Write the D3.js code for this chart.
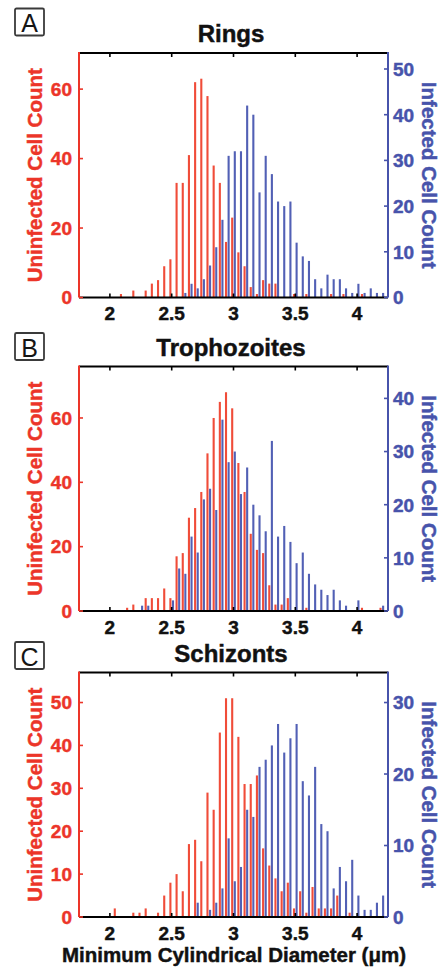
<!DOCTYPE html>
<html>
<head>
<meta charset="utf-8">
<script src="https://cdn.jsdelivr.net/npm/d3@7"></script>
<style>
  html, body { margin: 0; padding: 0; background: #fff; }
  svg { display: block; }
  text { font-family: "Liberation Sans", Arial, sans-serif; }
  text.heavy { stroke-width: 0.45px; paint-order: stroke; }
</style>
</head>
<body>
<svg id="chart" width="443" height="968"></svg>
<script>
// ---------------- DATA ----------------
const bins = [1.8,1.85,1.9,1.95,2.0,2.05,2.1,2.15,2.2,2.25,2.3,2.35,2.4,2.45,2.5,2.55,2.6,2.65,2.7,2.75,
              2.8,2.85,2.9,2.95,3.0,3.05,3.1,3.15,3.2,3.25,3.3,3.35,3.4,3.45,3.5,3.55,3.6,3.65,3.7,3.75,
              3.8,3.85,3.9,3.95,4.0,4.05,4.1,4.15,4.2];

const xTicks = [2, 2.5, 3, 3.5, 4];
const xTickLabels = ["2", "2.5", "3", "3.5", "4"];

const panelLetters = ["A", "B", "C"];
const panelTitles = ["Rings", "Trophozoites", "Schizonts"];

// Uninfected (red, left axis)
const ringsUninfected = [0,0,0,0,0,0,1,0,2,0,2,4,5,9,11,33,33,41,62,63,
                         58,38,33,16,23,13,9,3,1,5,4,4,0,0,1,0,1,0,0,0,
                         1,0,1,0,0,1,0,0,0];
const trophUninfected = [0,0,0,0,0,0,0,1,2,0,4,4,4,7,4,17,18,29,32,37,
                         49,60,65,68,63,46,37,24,19,18,8,2,2,4,0,0,1,0,0,0,
                         0,0,0,0,0,1,0,0,1];
const schizUninfected = [0,0,0,0,0,2,0,0,1,1,2,0,1,5,8,10,6,17,18,13,
                         29,25,43,51,51,42,31,31,33,16,12,9,6,8,2,6,1,7,2,2,
                         2,5,0,1,0,0,0,0,0];
// Infected (blue, right axis)
const ringsInfected = [0,0,0,0,0,0,0,0,0,0,0,0,0,0,0,0,1,3,2,4,
                       7,11,17,31,32,32,42,40,23,31,27,21,20,21,12,9,8,4,2,5,
                       4,4,2,1,3,1,2,1,1];
const trophInfected = [0,0,0,0,0,0,0,0,0,1,1,0,0,0,2,8,7,14,11,21,
                       23,19,36,28,30,22,27,20,18,15,32,14,16,13,9,11,7,5,4,3,
                       4,2,1,0,2,0,0,0,1];
const schizInfected = [0,0,0,0,0,0,0,0,0,0,0,0,0,0,0,0,0,0,2,0,
                       1,2,4,11,5,7,15,14,21,22,24,27,23,25,27,19,17,21,13,12,
                       4,7,5,8,3,1,1,2,3];

const leftTicks = [[0,20,40,60], [0,20,40,60], [0,10,20,30,40,50]];
const rightTicks = [[0,10,20,30,40,50], [0,10,20,30,40], [0,10,20,30]];
const leftMax = [70.4, 76, 57];
const rightMax = [53.5, 46, 34.2];

const uninfectedSeries = [ringsUninfected, trophUninfected, schizUninfected];
const infectedSeries = [ringsInfected, trophInfected, schizInfected];

const leftLabel = "Uninfected Cell Count";
const rightLabel = "Infected Cell Count";
const xLabel = "Minimum Cylindrical Diameter (\u03bcm)";

// ---------------- LAYOUT ----------------
const W = 443, H = 968;
const plotLeft = 79, plotRight = 388;
const panelTops = [53, 366.5, 672.5];
const panelH = 244.5;
const boxTops = [8.5, 333, 642];
const RED = "#ec3529", RED_BAR = "#f04c39";
const BLUE = "#4753ab", BLUE_BAR = "#5260b5";
const INK = "#111";

const svg = d3.select("#chart");
svg.append("rect").attr("width", W).attr("height", H).attr("fill", "#fff");

const x = d3.scaleLinear().domain([1.75, 4.25]).range([plotLeft, plotRight]);

function heavyText(sel, color) {
  return sel.attr("class", "heavy").attr("fill", color).attr("stroke", color);
}

panelTops.forEach((top, p) => {
  const bottom = top + panelH;
  const yL = d3.scaleLinear().domain([0, leftMax[p]]).range([bottom, top]);
  const yR = d3.scaleLinear().domain([0, rightMax[p]]).range([bottom, top]);
  const g = svg.append("g");

  // panel letter box
  g.append("rect").attr("x", 15).attr("y", boxTops[p]).attr("width", 29).attr("height", 27).attr("rx", 1.5)
    .attr("fill", "#fff").attr("stroke", "#3a3a3a").attr("stroke-width", 1.8);
  g.append("text").attr("x", 29.5).attr("y", boxTops[p] + 23.5).attr("text-anchor", "middle")
    .attr("font-size", 25).attr("fill", "#151515").text(panelLetters[p]);

  // title
  heavyText(g.append("text").attr("x", 231).attr("y", top - 11).attr("text-anchor", "middle")
    .attr("font-size", 24).attr("font-weight", "bold"), INK).text(panelTitles[p]);

  const bw = 2.1;
  // red bars
  g.append("g").selectAll("rect").data(bins.map((b, i) => ({b, v: uninfectedSeries[p][i]})).filter(d => d.v > 0))
    .join("rect")
    .attr("x", d => x(d.b) - 0.25 - bw).attr("width", bw)
    .attr("y", d => yL(d.v)).attr("height", d => bottom - yL(d.v))
    .attr("fill", RED_BAR);
  // blue bars
  g.append("g").selectAll("rect").data(bins.map((b, i) => ({b, v: infectedSeries[p][i]})).filter(d => d.v > 0))
    .join("rect")
    .attr("x", d => x(d.b) + 0.25).attr("width", bw)
    .attr("y", d => yR(d.v)).attr("height", d => bottom - yR(d.v))
    .attr("fill", BLUE_BAR);

  // axes lines
  const lw = 2;
  g.append("line").attr("x1", plotLeft).attr("x2", plotRight).attr("y1", top).attr("y2", top)
    .attr("stroke", "#000").attr("stroke-width", lw);
  g.append("line").attr("x1", plotLeft).attr("x2", plotRight).attr("y1", bottom).attr("y2", bottom)
    .attr("stroke", "#000").attr("stroke-width", lw);
  g.append("line").attr("x1", plotLeft).attr("x2", plotLeft).attr("y1", top - 1).attr("y2", bottom)
    .attr("stroke", RED).attr("stroke-width", lw);
  g.append("line").attr("x1", plotRight).attr("x2", plotRight).attr("y1", top - 1).attr("y2", bottom)
    .attr("stroke", BLUE).attr("stroke-width", lw);

  // x ticks (top & bottom, inward)
  xTicks.forEach((t, i) => {
    g.append("line").attr("x1", x(t)).attr("x2", x(t)).attr("y1", top).attr("y2", top + 4)
      .attr("stroke", "#000").attr("stroke-width", 1.6);
    g.append("line").attr("x1", x(t)).attr("x2", x(t)).attr("y1", bottom).attr("y2", bottom - 4)
      .attr("stroke", "#000").attr("stroke-width", 1.6);
    heavyText(g.append("text").attr("x", x(t)).attr("y", bottom + 22.5).attr("text-anchor", "middle")
      .attr("font-size", 19).attr("font-weight", "bold"), INK).text(xTickLabels[i]);
  });

  // left ticks
  leftTicks[p].forEach(t => {
    g.append("line").attr("x1", plotLeft).attr("x2", plotLeft + 4).attr("y1", yL(t)).attr("y2", yL(t))
      .attr("stroke", RED).attr("stroke-width", 1.6);
    heavyText(g.append("text").attr("x", 72).attr("y", yL(t)).attr("dy", "0.36em").attr("text-anchor", "end")
      .attr("font-size", 19).attr("font-weight", "bold"), RED).text(t);
  });
  // right ticks
  rightTicks[p].forEach(t => {
    g.append("line").attr("x1", plotRight).attr("x2", plotRight - 4).attr("y1", yR(t)).attr("y2", yR(t))
      .attr("stroke", BLUE).attr("stroke-width", 1.6);
    heavyText(g.append("text").attr("x", 393).attr("y", yR(t)).attr("dy", "0.36em").attr("text-anchor", "start")
      .attr("font-size", 19).attr("font-weight", "bold"), BLUE).text(t);
  });

  // axis labels
  const cy = (top + bottom) / 2;
  heavyText(g.append("text").attr("transform", `translate(42,${cy}) rotate(-90)`).attr("text-anchor", "middle")
    .attr("font-size", 20.5).attr("font-weight", "bold"), RED).text(leftLabel);
  heavyText(g.append("text").attr("transform", `translate(422,${cy}) rotate(90)`).attr("text-anchor", "middle")
    .attr("font-size", 20.5).attr("font-weight", "bold"), BLUE).text(rightLabel);
});

heavyText(svg.append("text").attr("x", 234).attr("y", 962).attr("text-anchor", "middle")
  .attr("font-size", 20.5).attr("font-weight", "bold"), INK).text(xLabel);
</script>
</body>
</html>
